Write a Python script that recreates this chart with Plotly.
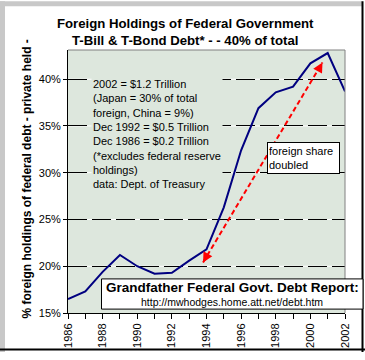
import plotly.graph_objects as go

# ---- data ----
years = list(range(1986, 2003))
foreign_share = [16.5, 17.3, 19.4, 21.2, 20.0, 19.2, 19.3, 20.6, 21.8,
                 26.3, 32.4, 36.9, 38.6, 39.2, 41.7, 42.8, 38.7]
arrow_years = [1993.8, 2000.7]
arrow_values = [20.4, 41.8]
y_ticks = [15, 20, 25, 30, 35, 40]
grid_values = [20, 25, 30, 35, 40]

title_lines = ["Foreign Holdings of Federal Government",
               "T-Bill & T-Bond Debt* - - 40% of total"]
ytitle_text = "% foreign holdings of federal debt - private held -"
note_lines = ["2002 = $1.2 Trillion", "(Japan = 30% of total", "foreign, China = 9%)",
              "Dec 1992 = $0.5 Trillion", "Dec 1986 = $0.2 Trillion",
              "(*excludes federal reserve", "holdings)", "data: Dept. of Treasury"]
box_title = "Grandfather Federal Govt. Debt Report:"
box_url = "http://mwhodges.home.att.net/debt.htm"
callout = "foreign share<br>doubled"

# ---- layout geometry (pixels) ----
W, H = 365, 360
L, R, T, B = 68, 345, 50, 320


def px(xp):
    return (xp - L) / (R - L)


def py(yp):
    return (B - yp) / (B - T)


FONT = "Liberation Sans, Arial, sans-serif"
BG = "rgb(221,231,221)"

fig = go.Figure()

fig.add_trace(go.Scatter(x=years, y=foreign_share, mode="lines",
                         line=dict(color="#000080", width=2), hoverinfo="skip"))
fig.add_trace(go.Scatter(x=arrow_years, y=arrow_values, mode="lines",
                         line=dict(color="#FF0000", width=2, dash="5px,3px"),
                         hoverinfo="skip"))

shapes = []
# white lines under the dashed gridlines
for g in grid_values:
    shapes.append(dict(type="line", xref="x", yref="y", x0=years[0], x1=years[-1],
                       y0=g, y1=g, line=dict(color="white", width=1), layer="below"))
# gray top/right plot border
shapes.append(dict(type="line", xref="paper", yref="paper", x0=0, x1=1, y0=1, y1=1,
                   line=dict(color="#808080", width=1)))
shapes.append(dict(type="line", xref="paper", yref="paper", x0=1, x1=1, y0=0, y1=1,
                   line=dict(color="#808080", width=1)))
# outer frame
shapes.append(dict(type="rect", xref="paper", yref="paper", x0=px(0), x1=px(5),
                   y0=py(360), y1=py(0), fillcolor="#C8C8C8", line=dict(width=0)))
shapes.append(dict(type="rect", xref="paper", yref="paper", x0=px(0), x1=px(362),
                   y0=py(5), y1=py(0), fillcolor="#C8C8C8", line=dict(width=0)))
shapes.append(dict(type="line", xref="paper", yref="paper", x0=px(362.5), x1=px(362.5),
                   y0=py(360), y1=py(0), line=dict(color="black", width=2)))
shapes.append(dict(type="line", xref="paper", yref="paper", x0=px(0), x1=px(365),
                   y0=py(357.5), y1=py(357.5), line=dict(color="black", width=2)))
# report box
shapes.append(dict(type="rect", xref="paper", yref="paper", x0=px(101.5), x1=px(363),
                   y0=py(316), y1=py(285), fillcolor="white",
                   line=dict(color="black", width=1)))

annotations = []
for ty, line in zip([23, 40], title_lines):
    annotations.append(dict(xref="paper", yref="paper", x=px(185), y=py(ty),
                            text="<b>" + line + "</b>",
                            showarrow=False, xanchor="center", yanchor="middle",
                            font=dict(family=FONT, size=13.2, color="black")))
annotations.append(dict(xref="paper", yref="paper", x=px(36), y=py(183),
                        text="<b>" + ytitle_text + "</b>", textangle=-90,
                        showarrow=False, xanchor="right", yanchor="middle",
                        font=dict(family=FONT, size=12, color="black")))
annotations.append(dict(xref="paper", yref="paper", x=px(90.5), y=py(136),
                        text="<br>".join(note_lines), align="left",
                        showarrow=False, xanchor="left", yanchor="middle",
                        bgcolor=BG, borderpad=1,
                        font=dict(family=FONT, size=11, color="black")))
annotations.append(dict(xref="paper", yref="paper", x=px(232.5), y=py(293.5),
                        text="<b>" + box_title + "</b>", showarrow=False,
                        xanchor="center", yanchor="middle",
                        font=dict(family=FONT, size=13.5, color="black")))
annotations.append(dict(xref="paper", yref="paper", x=px(231.5), y=py(309),
                        text=box_url, showarrow=False,
                        xanchor="center", yanchor="middle",
                        font=dict(family=FONT, size=10.5, color="black")))
annotations.append(dict(xref="paper", yref="paper", x=px(267), y=py(160.5),
                        text=callout, align="left", showarrow=False,
                        xanchor="left", yanchor="middle", bgcolor="white",
                        bordercolor="black", borderwidth=1, borderpad=1,
                        width=69, height=28,
                        font=dict(family=FONT, size=11, color="black")))
# arrowheads on both ends of the dashed red line
annotations.append(dict(xref="x", yref="y", x=arrow_years[1], y=arrow_values[1],
                        ax=-5, ay=9, text="", showarrow=True, arrowhead=2,
                        arrowsize=1, arrowwidth=2, arrowcolor="#FF0000", standoff=0))
annotations.append(dict(xref="x", yref="y", x=arrow_years[0], y=arrow_values[0],
                        ax=5, ay=-9, text="", showarrow=True, arrowhead=2,
                        arrowsize=1, arrowwidth=2, arrowcolor="#FF0000", standoff=0))

fig.update_layout(
    width=W, height=H, autosize=False,
    margin=dict(l=L, r=W - R, t=T, b=H - B, pad=0),
    paper_bgcolor="white", plot_bgcolor=BG,
    showlegend=False,
    font=dict(family=FONT, size=11, color="black"),
    shapes=shapes, annotations=annotations,
    xaxis=dict(range=[years[0], years[-1]], tickmode="array",
               tickvals=years[::2], ticktext=[str(y) for y in years[::2]],
               tickangle=-90, ticks="outside", ticklen=5, tickcolor="black",
               showline=True, linecolor="black", linewidth=1, showgrid=False,
               zeroline=False, tickfont=dict(size=11),
               minor=dict(tickvals=years, ticks="outside", ticklen=5,
                          tickcolor="black", showgrid=False)),
    yaxis=dict(range=[15, 15 + (B - T) / 48 * 5], tickmode="array",
               tickvals=y_ticks, ticktext=[f"{v}%" for v in y_ticks],
               ticks="outside", ticklen=4, tickcolor="black",
               showline=True, linecolor="black", linewidth=1,
               showgrid=True, gridcolor="black", gridwidth=1, griddash="19px,5px",
               zeroline=False, tickfont=dict(size=11)),
)

fig.write_html("out.html", config={"displayModeBar": False},
               post_script="document.body.style.margin='0px';"
                           "document.body.style.overflow='hidden';")
